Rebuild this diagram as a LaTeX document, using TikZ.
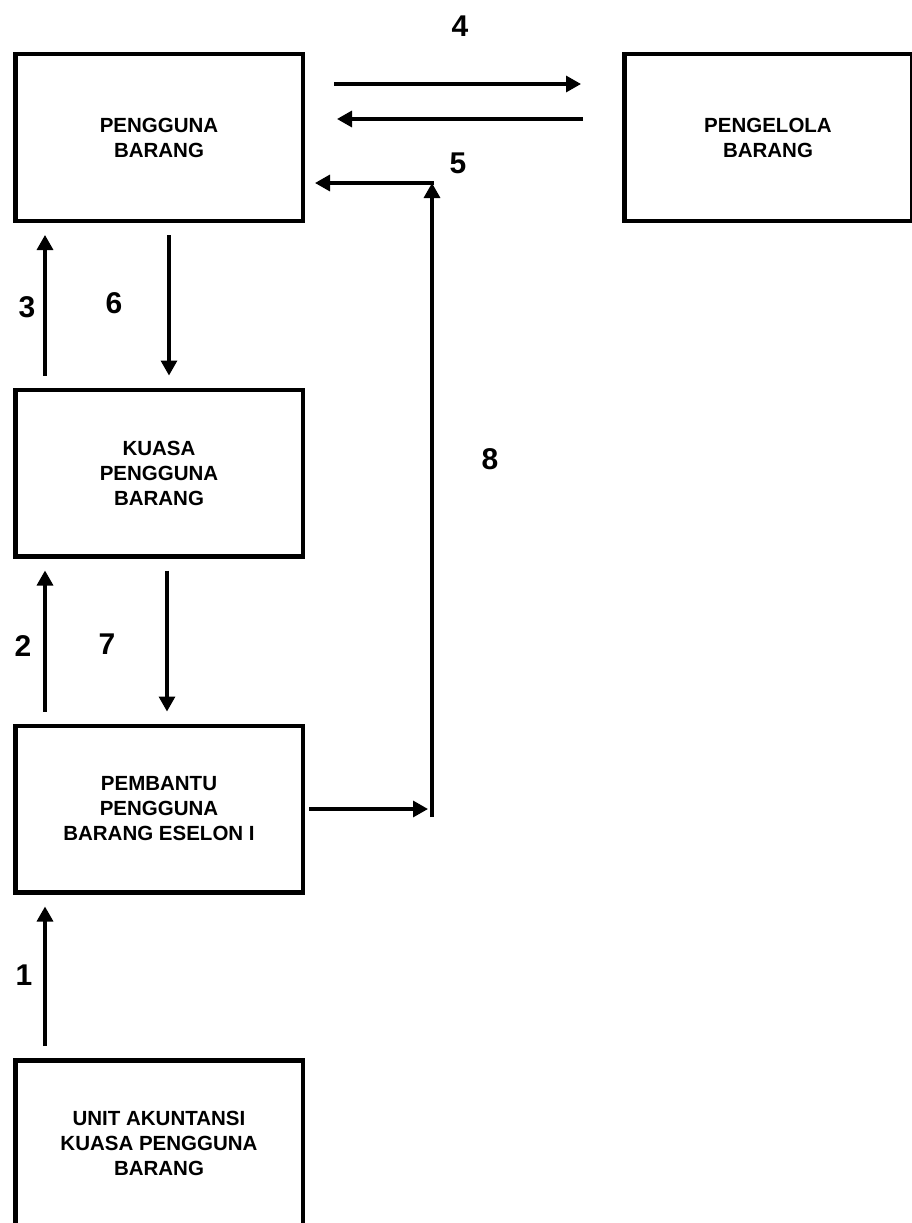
\documentclass[tikz,border=0pt]{standalone}
\usepackage{fontspec}
\setmainfont{Liberation Sans}
\usetikzlibrary{arrows.meta, positioning, calc}
\tikzset{
  font=\bfseries,
  >={Triangle[length=15pt, width=16pt]},
  %
  box/.style={
    draw=black, line width=4.5pt, fill=white, align=center,
    minimum width=287.5pt, minimum height=166.5pt, inner sep=0pt,
    font=\bfseries\fontsize{20.5}{25}\selectfont,
  },
  %
  flow/.style={draw=black, line width=3.3pt, ->,
               shorten <=12pt, shorten >=12pt},
  num/.style={font=\bfseries\fontsize{30}{30}\selectfont, inner sep=0pt},
}

\begin{document}
\begin{tikzpicture}[x=1pt, y=-1pt]
\useasboundingbox (0,0) rectangle (911,1223);

% ------------------------------------------------------------------ boxes
\node[box] (pb)  at (159,137.5)  {PENGGUNA\\BARANG};
\node[box] (pgl) at (768,137.5)  {PENGELOLA\\BARANG};
\node[box] (kpb) at (159,473)    {KUASA\\PENGGUNA\\BARANG};
\node[box] (pbe) at (159,809)    {PEMBANTU\\PENGGUNA\\BARANG ESELON I};
\node[box] (uak) at (159,1143.5) {UNIT AKUNTANSI\\KUASA PENGGUNA\\BARANG};

\coordinate (top8) at (432,183);
\coordinate (bot8) at (432,817);

% ------------------------------------------------------------------ arrows
\draw[flow, shorten <=29pt, shorten >=41pt]
  ([yshift=53.5pt]pb.east) -- ([yshift=53.5pt]pgl.west);
\draw[flow, shorten <=39pt, shorten >=32pt]
  ([yshift=18.5pt]pgl.west) -- ([yshift=18.5pt]pb.east);

\draw[flow, shorten <=0pt, shorten >=0pt] (bot8) -- (top8);
\draw[flow, shorten <=-2pt, shorten >=10pt] (top8) -- (top8 -| pb.east);
\draw[flow, shorten <=4pt, shorten >=4pt] (pbe.east) -- (pbe.east -| bot8);

\draw[flow] ([xshift=32pt]kpb.north west) -- ([xshift=32pt]pb.south west);
\draw[flow] ([xshift=156pt]pb.south west) -- ([xshift=156pt]kpb.north west);
\draw[flow] ([xshift=32pt]pbe.north west) -- ([xshift=32pt]kpb.south west);
\draw[flow] ([xshift=154pt]kpb.south west) -- ([xshift=154pt]pbe.north west);
\draw[flow] ([xshift=32pt]uak.north west) -- ([xshift=32pt]pbe.south west);

% ------------------------------------------------------------------ labels
\node[num] (l1) at (24,975)  {1};
\node[num] (l2) at (23,646)  {2};
\node[num] (l3) at (27,307)  {3};
\node[num] (l4) at (460,26)  {4};
\node[num] (l5) at (458,163) {5};
\node[num] (l6) at (114,303) {6};
\node[num] (l7) at (107,644) {7};
\node[num] (l8) at (490,459) {8};

\end{tikzpicture}
\end{document}
